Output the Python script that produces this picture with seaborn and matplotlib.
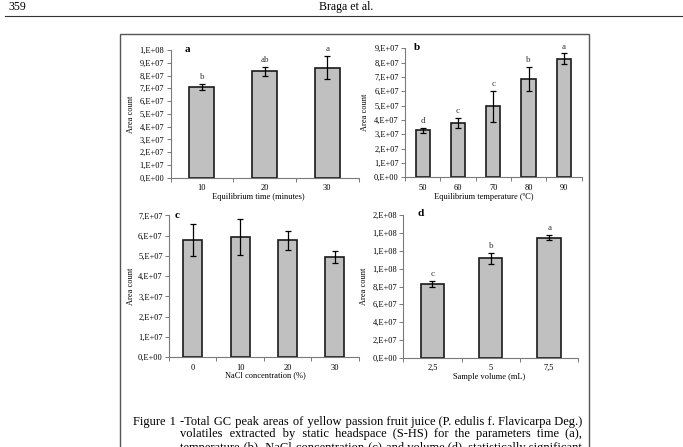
import numpy as np
import pandas as pd
import matplotlib
matplotlib.use('Agg')
import matplotlib.pyplot as plt
import seaborn as sns
from matplotlib.ticker import MultipleLocator, FuncFormatter
from matplotlib.patches import Rectangle
from matplotlib.lines import Line2D

# data
time_labels = ['10', '20', '30']
time_means = [7.12e7, 8.35e7, 8.62e7]
time_sd = [0.22e7, 0.35e7, 0.92e7]
time_letters = ['b', 'ab', 'a']

temp_labels = ['50', '60', '70', '80', '90']
temp_means = [3.27e7, 3.77e7, 4.95e7, 6.85e7, 8.27e7]
temp_sd = [0.17e7, 0.36e7, 1.10e7, 0.85e7, 0.37e7]
temp_letters = ['d', 'c', 'c', 'b', 'a']

nacl_labels = ['0', '10', '20', '30']
nacl_means = [5.80e7, 5.93e7, 5.77e7, 4.96e7]
nacl_sd = [0.80e7, 0.88e7, 0.47e7, 0.29e7]
nacl_letters = ['', '', '', '']

vol_labels = ['2,5', '5', '7,5']
vol_means = [8.25e7, 11.2e7, 13.5e7]
vol_sd = [0.34e7, 0.62e7, 0.30e7]
vol_letters = ['c', 'b', 'a']

caption = [
    "Figure 1 -Total GC peak areas of yellow passion fruit juice (P. edulis f. Flavicarpa Deg.)",
    "volatiles extracted by static headspace (S-HS) for the parameters time (a),",
    "temperature (b), NaCl concentration (c) and volume (d), statistically significant",
]

W, H = 683, 447
plt.rcParams['font.family'] = ['Liberation Serif', 'DejaVu Serif']
fig = plt.figure(figsize=(W / 100, H / 100), dpi=100)
fig.patch.set_facecolor('white')

def px(x):
    return x / W

def py(y):
    return 1 - y / H

axis_c = '#7a7a7a'

def excel_sci(v, pos):
    if v == 0:
        return '0,E+00'
    e = int(np.floor(np.log10(abs(v)) + 1e-9))
    m = int(round(v / 10 ** e))
    if m == 10:
        m, e = 1, e + 1
    return f'{m},E{e:+03d}'

def panel(box, labels, means, sds, letters, ymax, ystep, xlabel, xlab_x, xlab_y, ylab_x, tag, tag_xy):
    x0, y0, x1, y1 = box
    ax = fig.add_axes([px(x0), py(y1), px(x1) - px(x0), py(y0) - py(y1)])
    df = pd.DataFrame({'cat': labels, 'val': means})
    sns.barplot(data=df, x='cat', y='val', color='#c0c0c0', saturation=1, width=0.4,
                edgecolor='#1a1a1a', linewidth=1.2, errorbar=None, ax=ax)
    pos = np.arange(len(labels))
    ax.errorbar(pos, means, yerr=sds, fmt='none', ecolor='black', elinewidth=0.9,
                capsize=2.5, capthick=0.9)
    for p, m, s, l in zip(pos, means, sds, letters):
        if l:
            ax.annotate(l, (p, m + s), xytext=(0, 2), textcoords='offset points',
                        ha='center', va='bottom', fontsize=6.5, color='#333333')
    ax.set_xlim(-0.5, len(labels) - 0.5)
    ax.set_ylim(0, ymax)
    ax.yaxis.set_major_locator(MultipleLocator(ystep))
    ax.yaxis.set_major_formatter(FuncFormatter(excel_sci))
    ax.set_xticks(np.arange(len(labels) + 1) - 0.5, minor=True)
    ax.tick_params(axis='x', which='major', length=0, pad=4.5, labelsize=6)
    ax.tick_params(axis='x', which='minor', length=3, width=0.7, color=axis_c)
    ax.tick_params(axis='y', length=3, width=0.7, pad=1.5, labelsize=6, color=axis_c)
    for s in ['top', 'right']:
        ax.spines[s].set_visible(False)
    for s in ['left', 'bottom']:
        ax.spines[s].set_color(axis_c)
        ax.spines[s].set_linewidth(0.8)
    ax.set_facecolor('white')
    ax.set_ylabel('Area count', fontsize=6)
    ax.yaxis.set_label_coords(ylab_x, 0.5)
    ax.set_xlabel(xlabel, fontsize=6)
    ax.xaxis.set_label_coords(xlab_x, xlab_y)
    ax.xaxis.label.set_va('center')
    fig.text(px(tag_xy[0]), py(tag_xy[1]), tag, fontsize=8, fontweight='bold',
             ha='center', va='center')
    return ax

panel((170.5, 50, 358.5, 177.7), time_labels, time_means, time_sd, time_letters,
      1e8, 1e7, 'Equilibrium time (minutes)', 0.468, -0.149, -0.189, 'a', (187, 49))
panel((405, 48.3, 581.5, 177.3), temp_labels, temp_means, temp_sd, temp_letters,
      9e7, 1e7, 'Equilibrium temperature (ºC)', 0.448, -0.150, -0.202, 'b', (417, 48))
panel((169, 215.4, 358.6, 357.3), nacl_labels, nacl_means, nacl_sd, nacl_letters,
      7e7, 1e7, 'NaCl concentration (%)', 0.506, -0.125, -0.179, 'c', (177.5, 216))
panel((403.3, 215.3, 578.3, 357.7), vol_labels, vol_means, vol_sd, vol_letters,
      1.6e8, 2e7, 'Sample volume (mL)', 0.493, -0.136, -0.200, 'd', (420.5, 214))

# page header
fig.text(px(8), py(7), '359', fontsize=8.5, ha='left', va='center')
fig.text(px(346), py(7), 'Braga et al.', fontsize=8.5, ha='center', va='center')
fig.add_artist(Line2D([px(5), px(683)], [py(16), py(16)], transform=fig.transFigure,
                      color='#333333', lw=0.8))

# frame around the figure
fig.add_artist(Rectangle((px(120), py(470)), px(589) - px(120), py(34) - py(470),
                         transform=fig.transFigure, fill=False, edgecolor='#555555', lw=1.0))

# justified caption lines: one text per line, padded with hair spaces
HAIR = '\u200a'

def justified(text, x0, x1, y, size):
    words = text.split()
    ngaps = len(words) - 1
    r = fig.canvas.get_renderer()
    t = fig.text(px(x0), py(y), ' '.join(words), fontsize=size, ha='left', va='baseline')
    w0 = t.get_window_extent(r).width
    t.set_text((' ' + HAIR).join(words))
    w1 = t.get_window_extent(r).width
    per = (w1 - w0) / ngaps
    if per <= 0.05:
        t.set_text(' '.join(words))
        return
    total = max(0, int(round((x1 - x0 - w0) / per)))
    base, extra = divmod(total, ngaps)
    out = words[0]
    for i, w in enumerate(words[1:]):
        out += ' ' + HAIR * (base + (1 if i < extra else 0)) + w
    t.set_text(out)

justified(caption[0], 133, 582, 424.5, 9)
justified(caption[1], 180, 582, 436.5, 9)
justified(caption[2], 180, 582, 451, 9)

fig.savefig('out.png', dpi=100)
